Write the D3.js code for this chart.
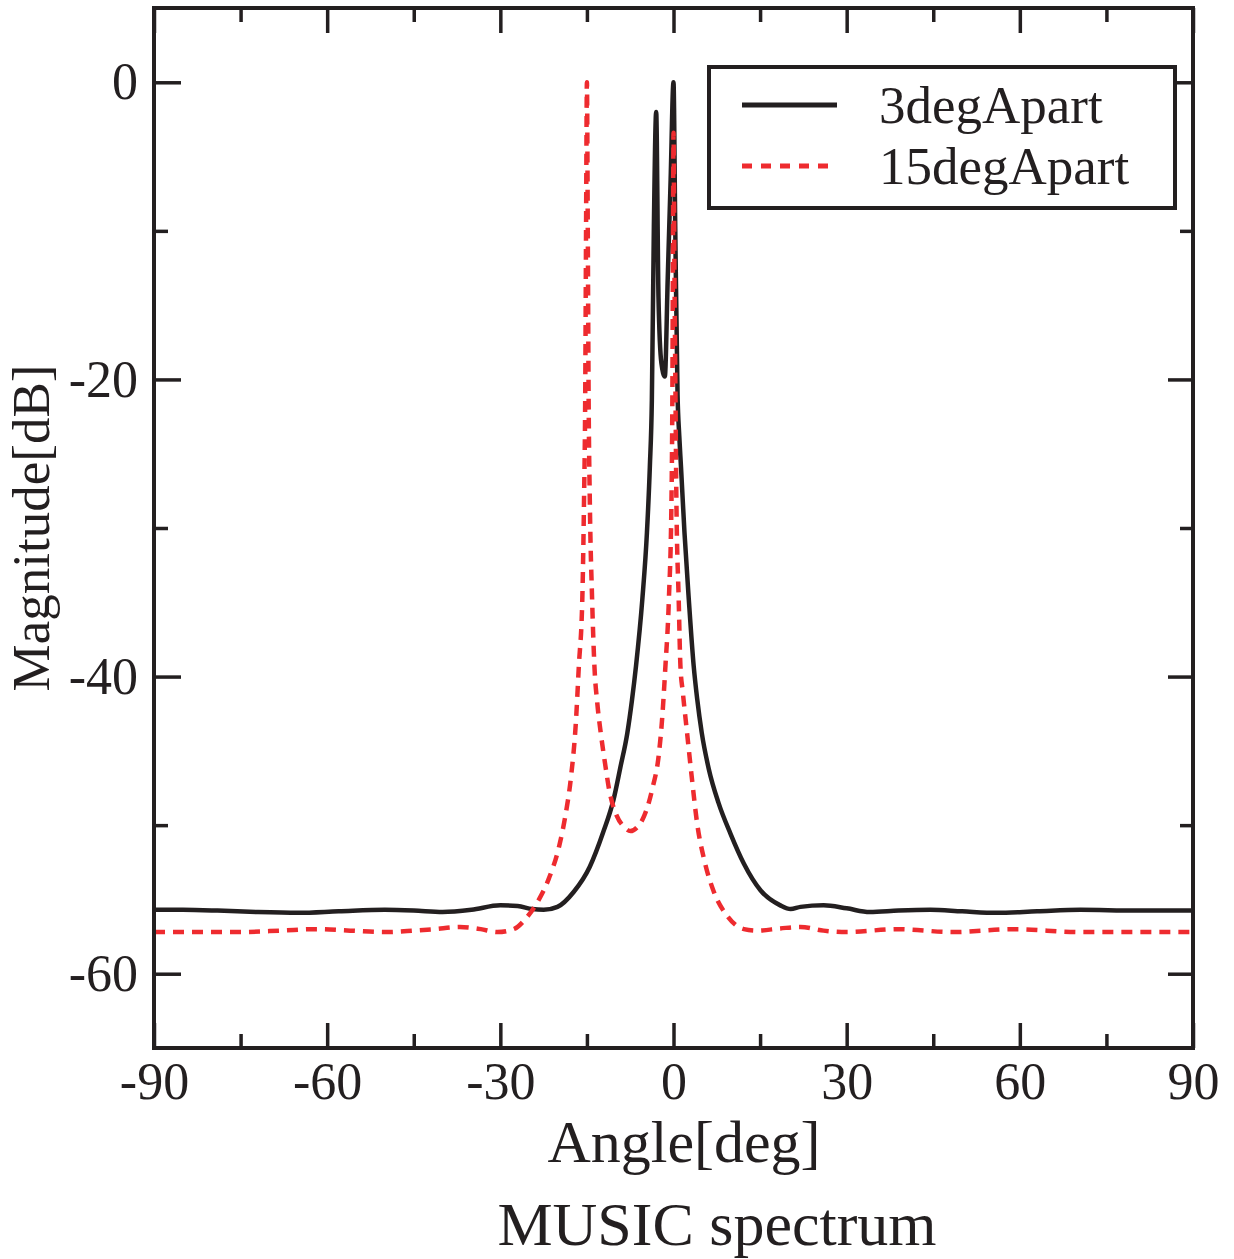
<!DOCTYPE html>
<html>
<head>
<meta charset="utf-8">
<script src="https://cdn.jsdelivr.net/npm/d3@7"></script>
<style>
  html, body { margin: 0; padding: 0; background: #fff; }
  svg { display: block; }
  text { font-family: "Liberation Serif", "Times New Roman", serif; fill: #231f20; }
</style>
</head>
<body>
<svg id="chart" width="1234" height="1259"></svg>
<script>
// MUSIC pseudo-spectrum, two source separations (angle in degrees, magnitude in dB)
const angles3 = [-90,-85,-79,-72,-65,-58,-50,-45,-40,-35,
  -30,-27,-24.5,-22.5,-20.1,-17.3,-14.5,-12.2,-10.4,-9.2,
  -8.0,-7.2,-6.5,-5.4,-4.6,-4.1,-3.75,-3.4,-3.0,-2.6,
  -2.1,-1.5,-1.0,-0.5,0,0.3,0.7,1.0,1.3,1.9,
  2.65,3.5,4.1,4.9,6.1,7.8,9.9,12.2,15.1,18.5,
  20.3,22,26,30,34,39,44.5,50,56,63,
  70.5,80,90];
const mag3 = [-55.7,-55.7,-55.75,-55.85,-55.9,-55.8,-55.7,-55.75,-55.85,-55.7,
  -55.4,-55.45,-55.65,-55.7,-55.5,-54.5,-52.8,-50.5,-48.3,-46.1,
  -43.8,-41.6,-39.3,-34.8,-30.3,-25.9,-21.4,-9.7,-2.0,-14.5,
  -18.9,-19.8,-13.2,-6.6,0,-9.7,-21.0,-23.8,-25.9,-30.3,
  -34.8,-39.3,-41.5,-43.8,-46.2,-48.5,-50.6,-52.6,-54.4,-55.4,
  -55.65,-55.5,-55.4,-55.6,-55.85,-55.75,-55.7,-55.8,-55.9,-55.8,
  -55.7,-55.75,-55.75];

const angles15 = [-90,-83,-76,-68,-62,-56,-50,-45,-41.5,-37,
  -33.4,-30.5,-27.7,-25.4,-23.6,-21.6,-19.8,-18.7,-17.8,-16.9,
  -16.4,-15.8,-15.5,-15.3,-15.15,-15,-14.85,-14.7,-14.5,-14.1,
  -13.7,-13.2,-12.6,-11.8,-11.2,-9.8,-8.6,-7.45,-6.2,-5.1,
  -3.7,-2.5,-2.0,-1.4,-0.8,-0.35,-0.2,-0.1,0,0.15,
  0.35,0.5,0.9,1.2,1.6,2.3,3.2,4.1,5.3,7.0,
  9.3,12.2,14.5,18.5,22,26,30,38.7,48.5,58.9,
  70.5,80,90];
const mag15 = [-57.2,-57.2,-57.2,-57.1,-57.0,-57.1,-57.2,-57.1,-57.0,-56.85,
  -57.0,-57.2,-57.0,-56.2,-55.2,-53.6,-51.4,-49.3,-46.9,-43.0,
  -39.3,-34.8,-28.1,-21.4,-10,0,-10,-21.4,-28.1,-34.8,
  -39.3,-41.8,-43.8,-46.0,-47.5,-49.4,-50.1,-50.4,-50.1,-49.4,
  -47.6,-45.1,-43.0,-39.3,-34.8,-28.1,-21.4,-12,-3.4,-12,
  -21.4,-28.1,-34.8,-39.3,-41.0,-43.6,-46.9,-49.9,-52.3,-54.5,
  -56.1,-57.0,-57.1,-56.95,-56.85,-57.1,-57.2,-57.0,-57.2,-57.0,
  -57.2,-57.2,-57.2];

const seriesNames = ["3degApart", "15degApart"];
const seriesColors = ["#231f20", "#ee2b2f"];

const xMajorTicks = [-90, -60, -30, 0, 30, 60, 90];
const xMajorLabels = ["-90", "-60", "-30", "0", "30", "60", "90"];
const xMinorTicks = [-75, -45, -15, 15, 45, 75];
const yMajorTicks = [0, -20, -40, -60];
const yMajorLabels = ["0", "-20", "-40", "-60"];
const yMinorTicks = [-10, -30, -50];

const xTitle = "Angle[deg]";
const yTitle = "Magnitude[dB]";
const caption = "MUSIC spectrum";

// ---- layout ----
const svg = d3.select("#chart");
const plotLeft = 154, plotRight = 1193, plotTop = 8, plotBottom = 1048;
const ink = "#231f20";

const x = d3.scaleLinear().domain([-90, 90]).range([plotLeft, plotRight]);
const y = d3.scaleLinear().domain([-65, 5]).range([plotBottom, plotTop]);

// ---- curves ----
const line = d3.line()
  .x(d => x(d[0]))
  .y(d => y(d[1]))
  .curve(d3.curveMonotoneX);

const data3 = angles3.map((a, i) => [a, mag3[i]]);
const data15 = angles15.map((a, i) => [a, mag15[i]]);

svg.append("path")
  .datum(data3)
  .attr("d", line)
  .attr("fill", "none")
  .attr("stroke", seriesColors[0])
  .attr("stroke-width", 4.5)
  .attr("stroke-linejoin", "miter");

svg.append("path")
  .datum(data15)
  .attr("d", line)
  .attr("fill", "none")
  .attr("stroke", seriesColors[1])
  .attr("stroke-width", 4.5)
  .attr("stroke-dasharray", "11 8");

// ---- axes (ticks pointing inward on all four sides) ----
function styleAxis(g) {
  g.select(".domain").remove();
  g.selectAll(".tick line").attr("stroke", ink).attr("stroke-width", 3.5);
  g.selectAll(".tick text")
    .attr("fill", ink)
    .style("font-family", '"Liberation Serif", "Times New Roman", serif')
    .style("font-size", "52px");
}

svg.append("g").attr("transform", `translate(0,${plotBottom})`)
  .call(d3.axisBottom(x).tickValues(xMajorTicks).tickSize(-25).tickPadding(14)
    .tickFormat((d, i) => xMajorLabels[i]))
  .call(styleAxis);
svg.append("g").attr("transform", `translate(0,${plotBottom})`)
  .call(d3.axisBottom(x).tickValues(xMinorTicks).tickSize(-14).tickFormat(""))
  .call(styleAxis);
svg.append("g").attr("transform", `translate(0,${plotTop})`)
  .call(d3.axisTop(x).tickValues(xMajorTicks).tickSize(-25).tickFormat(""))
  .call(styleAxis);
svg.append("g").attr("transform", `translate(0,${plotTop})`)
  .call(d3.axisTop(x).tickValues(xMinorTicks).tickSize(-14).tickFormat(""))
  .call(styleAxis);

svg.append("g").attr("transform", `translate(${plotLeft},0)`)
  .call(d3.axisLeft(y).tickValues(yMajorTicks).tickSize(-27).tickPadding(16)
    .tickFormat((d, i) => yMajorLabels[i]))
  .call(styleAxis);
svg.append("g").attr("transform", `translate(${plotLeft},0)`)
  .call(d3.axisLeft(y).tickValues(yMinorTicks).tickSize(-14).tickFormat(""))
  .call(styleAxis);
svg.append("g").attr("transform", `translate(${plotRight},0)`)
  .call(d3.axisRight(y).tickValues(yMajorTicks).tickSize(-25).tickFormat(""))
  .call(styleAxis);
svg.append("g").attr("transform", `translate(${plotRight},0)`)
  .call(d3.axisRight(y).tickValues(yMinorTicks).tickSize(-13).tickFormat(""))
  .call(styleAxis);

// plot frame
svg.append("rect")
  .attr("x", plotLeft).attr("y", plotTop)
  .attr("width", plotRight - plotLeft).attr("height", plotBottom - plotTop)
  .attr("fill", "none").attr("stroke", ink).attr("stroke-width", 4);

// ---- titles ----
svg.append("text")
  .attr("x", 684).attr("y", 1162)
  .attr("text-anchor", "middle")
  .style("font-size", "60px")
  .text(xTitle);

svg.append("text")
  .attr("x", 717).attr("y", 1245)
  .attr("text-anchor", "middle")
  .style("font-size", "62px")
  .text(caption);

svg.append("text")
  .attr("transform", `translate(49,${(plotTop + plotBottom) / 2}) rotate(-90)`)
  .attr("text-anchor", "middle")
  .style("font-size", "53px")
  .text(yTitle);

// ---- legend ----
const legend = svg.append("g");
legend.append("rect")
  .attr("x", 709).attr("y", 67)
  .attr("width", 1175 - 709).attr("height", 208 - 67)
  .attr("fill", "#fff").attr("stroke", ink).attr("stroke-width", 4);

const legendRows = [105, 166];
const legendDash = [null, "10 9"];
seriesNames.forEach((name, i) => {
  legend.append("line")
    .attr("x1", 742).attr("x2", i === 0 ? 837 : 829)
    .attr("y1", legendRows[i]).attr("y2", legendRows[i])
    .attr("stroke", seriesColors[i])
    .attr("stroke-width", 5)
    .attr("stroke-dasharray", legendDash[i]);
  legend.append("text")
    .attr("x", 879).attr("y", legendRows[i] + 18)
    .style("font-size", "53px")
    .text(name);
});
</script>
</body>
</html>
